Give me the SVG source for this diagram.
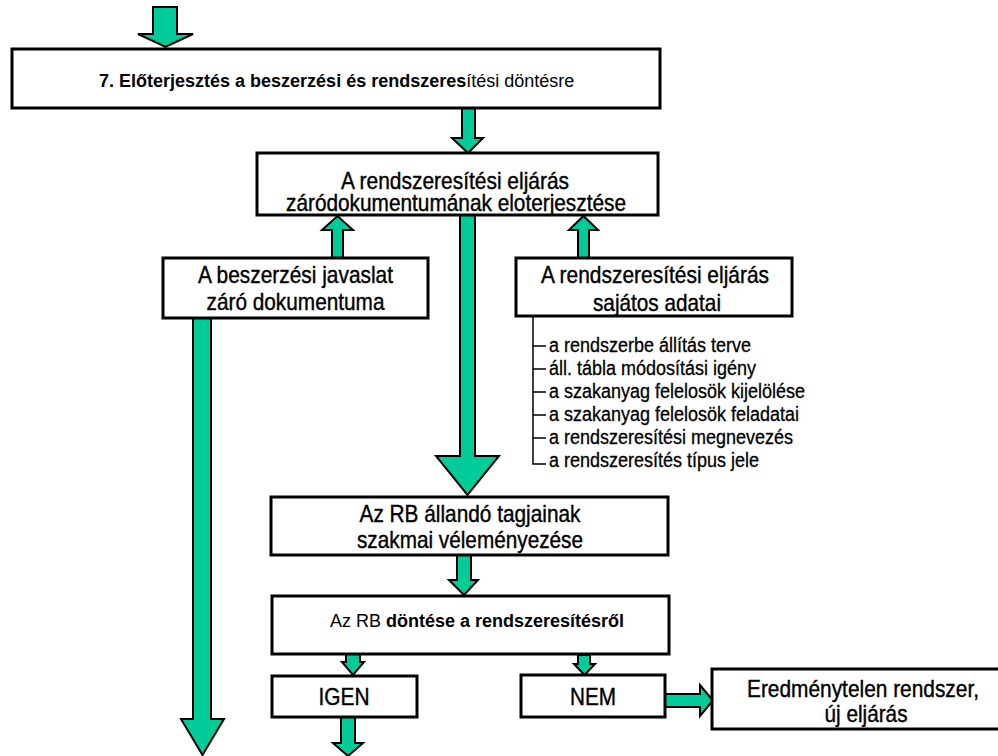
<svg xmlns="http://www.w3.org/2000/svg" width="998" height="756" viewBox="0 0 998 756">
<style>
.box{fill:#fff;stroke:#000;stroke-width:3}
.arr{fill:#00CC99;stroke:#000;stroke-width:2;stroke-linejoin:miter}
.br{fill:none;stroke:#000;stroke-width:1.5}
.n{font-family:'Liberation Sans Narrow','Liberation Sans',Arial,sans-serif;font-size:24px;fill:#000;stroke:#000;stroke-width:0.4;text-anchor:middle}
.s{font-family:'Liberation Sans Narrow','Liberation Sans',Arial,sans-serif;font-size:20px;fill:#000;stroke:#000;stroke-width:0.3}
.r{font-family:'Liberation Sans',Arial,sans-serif;font-size:18px;fill:#000}
.b{font-weight:bold}
</style>
<rect width="998" height="756" fill="#fff"/>
<g id="connectors">
<polygon class="arr" points="153,7 177,7 177,34 193,34 165.5,47 138,34 153,34"/>
<polygon class="arr" points="462,108 475,108 475,138 483,138 468,153 452,138 462,138"/>
<polygon class="arr" points="332,258 343,258 343,230 353,230 337.5,216 322,230 332,230"/>
<polygon class="arr" points="578,258 589,258 589,230 598,230 583.5,216 569,230 578,230"/>
<polygon class="arr" points="460,215 475,215 475,456 499,456 467.5,495 436,456 460,456"/>
<polygon class="arr" points="457,555 471,555 471,580 478,580 464,595 449,580 457,580"/>
<polygon class="arr" points="346,654 360,654 360,662 364,662 353,675 342,662 346,662"/>
<polygon class="arr" points="578,655 590,655 590,664 595,664 584.5,675 574,664 578,664"/>
<polygon class="arr" points="341,717 355,717 355,743 363,743 348,756 333,743 341,743"/>
<polygon class="arr" points="193,318 211,318 211,719 224,719 202.5,755 181,719 193,719"/>
<polygon class="arr" points="665,694 700,694 700,685 713,700.5 700,716 700,707 665,707"/>
<path class="br" d="M533,316 V464 H546 M533,346 H546 M533,369 H546 M533,392 H546 M533,415 H546 M533,438 H546"/>
</g>
<g id="n-elo">
<rect class="box" x="12" y="49" width="648" height="59"/>
<text class="r" x="99" y="87"><tspan class="b">7. Előterjesztés a beszerzési és rendszeres</tspan>ítési döntésre</text>
</g>
<g id="n-zaro">
<rect class="box" x="257" y="153" width="401" height="62"/>
<text class="n" x="455" y="189" textLength="228" lengthAdjust="spacingAndGlyphs">A rendszeresítési eljárás</text>
<text class="n" x="456" y="211" textLength="340" lengthAdjust="spacingAndGlyphs">záródokumentumának eloterjesztése</text>
</g>
<g id="n-besz">
<rect class="box" x="163" y="258" width="265" height="60"/>
<text class="n" x="295.5" y="283" textLength="195" lengthAdjust="spacingAndGlyphs">A beszerzési javaslat</text>
<text class="n" x="295.5" y="310" textLength="178" lengthAdjust="spacingAndGlyphs">záró dokumentuma</text>
</g>
<g id="n-sajat">
<rect class="box" x="516" y="258" width="276" height="58"/>
<text class="n" x="655" y="283" textLength="228" lengthAdjust="spacingAndGlyphs">A rendszeresítési eljárás</text>
<text class="n" x="657" y="311" textLength="128" lengthAdjust="spacingAndGlyphs">sajátos adatai</text>
</g>
<g id="n-list">
<text class="s" x="549" y="352" textLength="202" lengthAdjust="spacingAndGlyphs">a rendszerbe állítás terve</text>
<text class="s" x="549" y="375" textLength="207" lengthAdjust="spacingAndGlyphs">áll. tábla módosítási igény</text>
<text class="s" x="549" y="398" textLength="256" lengthAdjust="spacingAndGlyphs">a szakanyag felelosök kijelölése</text>
<text class="s" x="549" y="421" textLength="250" lengthAdjust="spacingAndGlyphs">a szakanyag felelosök feladatai</text>
<text class="s" x="549" y="444" textLength="244" lengthAdjust="spacingAndGlyphs">a rendszeresítési megnevezés</text>
<text class="s" x="549" y="467" textLength="210" lengthAdjust="spacingAndGlyphs">a rendszeresítés típus jele</text>
</g>
<g id="n-rb">
<rect class="box" x="271" y="497" width="397" height="58"/>
<text class="n" x="470" y="522" textLength="221" lengthAdjust="spacingAndGlyphs">Az RB állandó tagjainak</text>
<text class="n" x="470" y="548" textLength="226" lengthAdjust="spacingAndGlyphs">szakmai véleményezése</text>
</g>
<g id="n-dontes">
<rect class="box" x="272" y="596" width="397" height="58"/>
<text class="r" x="330" y="627">Az RB <tspan class="b">döntése a rendszeresítésről</tspan></text>
</g>
<g id="n-igen">
<rect class="box" x="272" y="676" width="145" height="41"/>
<text class="n" x="344" y="705" textLength="51" lengthAdjust="spacingAndGlyphs">IGEN</text>
</g>
<g id="n-nem">
<rect class="box" x="521" y="675" width="144" height="42"/>
<text class="n" x="593" y="705" textLength="46" lengthAdjust="spacingAndGlyphs">NEM</text>
</g>
<g id="n-ered">
<rect class="box" x="712" y="669" width="290" height="60"/>
<text class="n" x="863" y="697" textLength="232" lengthAdjust="spacingAndGlyphs">Eredménytelen rendszer,</text>
<text class="n" x="866" y="722" textLength="83" lengthAdjust="spacingAndGlyphs">új eljárás</text>
</g>
</svg>
